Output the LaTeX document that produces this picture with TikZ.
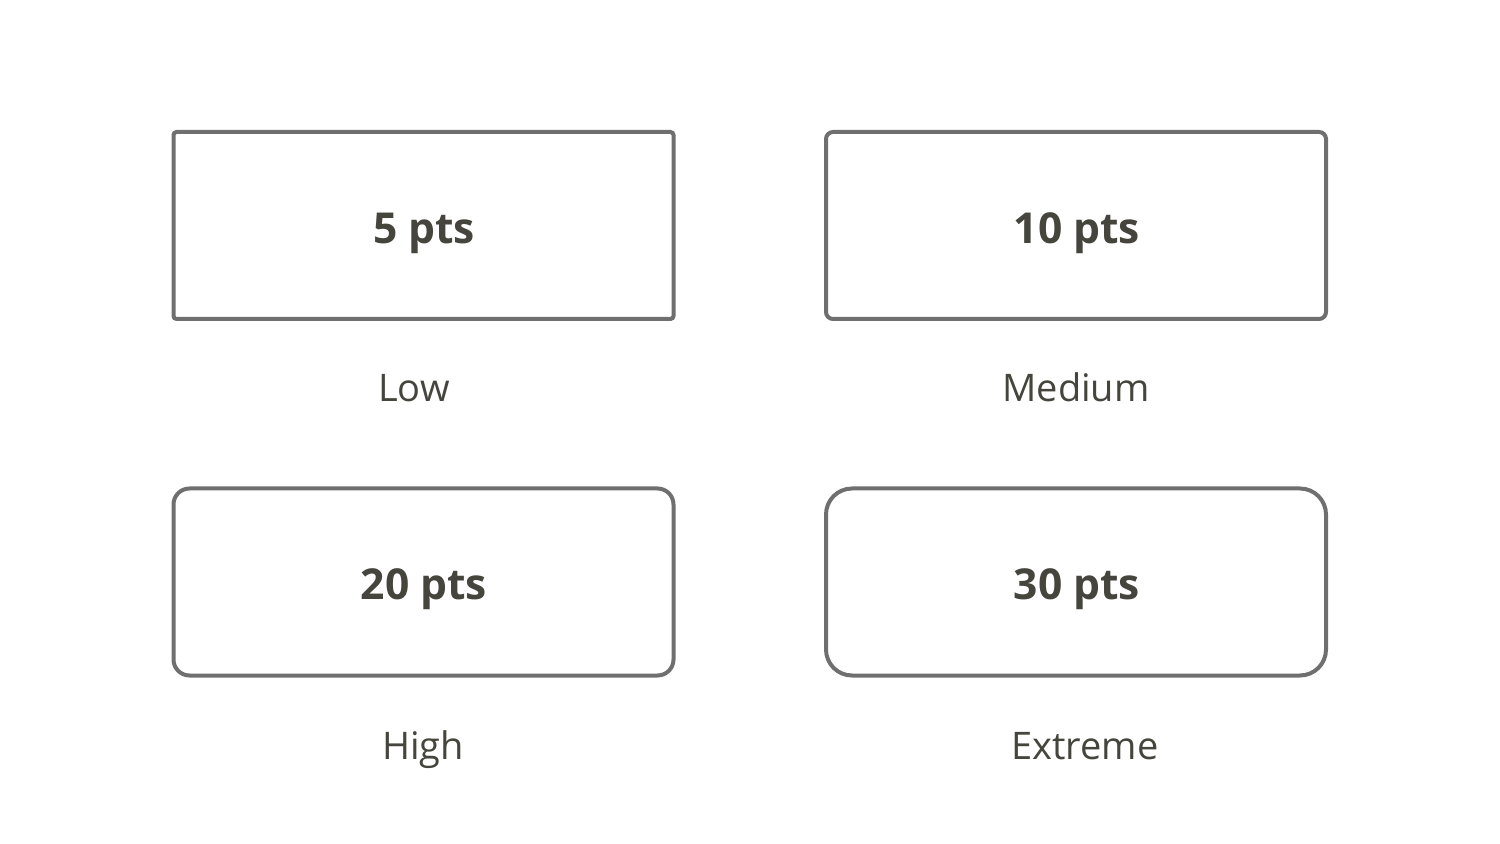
\documentclass[tikz,border=0pt]{standalone}
\usepackage{fontspec}
\setmainfont{Open Sans}
\definecolor{rimgray}{RGB}{111,111,111}
\definecolor{inkgray}{RGB}{69,69,61}
\tikzset{
  scorebox/.style={draw=rimgray, line width=2pt, minimum width=250pt, minimum height=93.5pt, inner sep=0pt},
  scoretext/.style={text=inkgray, font=\fontsize{21.3}{24}\selectfont\bfseries, anchor=base},
  leveltext/.style={text=inkgray, font=\fontsize{19}{22}\selectfont, anchor=base}
}
\begin{document}
\begin{tikzpicture}[x=0.5pt, y=-0.5pt]
\useasboundingbox (0,0) rectangle (1500,844);
\node[scorebox, rounded corners=1.5pt] (lowbox) at (423.5,225.5) {};
\node[scorebox, rounded corners=3.5pt] (medbox) at (1076,225.5) {};
\node[scorebox, rounded corners=8pt] (highbox) at (423.5,582) {};
\node[scorebox, rounded corners=13pt] (extbox) at (1076,582) {};
\node[scoretext] (lowpts) at (424,244) {5 pts};
\node[scoretext] (medpts) at (1077,244) {10 pts};
\node[scoretext] (highpts) at (424,600) {20 pts};
\node[scoretext] (extpts) at (1077,600) {30 pts};
\node[leveltext] (lowlbl) at (414,402) {Low};
\node[leveltext] (medlbl) at (1076,402) {Medium};
\node[leveltext] (highlbl) at (423,759) {High};
\node[leveltext] (extlbl) at (1085,759) {Extreme};
\end{tikzpicture}
\end{document}
